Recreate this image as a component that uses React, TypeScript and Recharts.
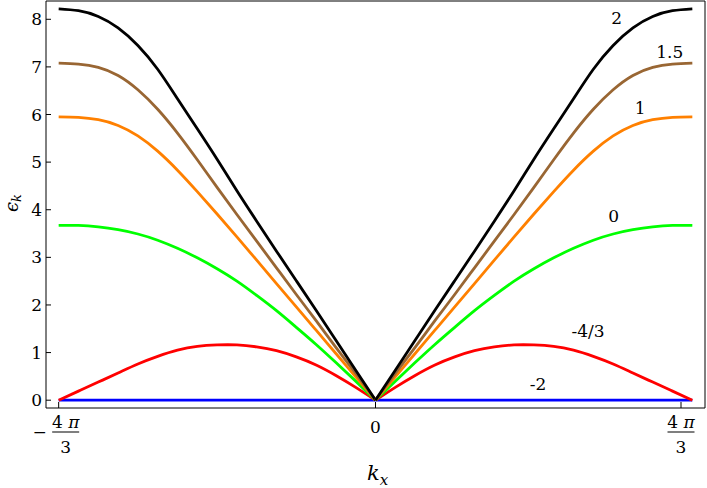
import { LineChart, Line, XAxis, YAxis, ReferenceLine, ReferenceDot } from "recharts";

// k_x sample points on the right half (multiples of pi/12, 0 .. 4pi/3)
const kHalf = [
  0, 0.2618, 0.5236, 0.7854, 1.0472, 1.309, 1.5708, 1.8326, 2.0944, 2.3562, 2.618, 2.8798, 3.1416,
  3.4034, 3.6652, 3.927, 4.1888,
];

// dispersion for each value of the parameter (right half; curves are symmetric)
const curve2 = [0, 0.63, 1.26, 1.89, 2.51, 3.13, 3.76, 4.4, 5.06, 5.7, 6.33, 6.95, 7.45, 7.82, 8.06, 8.18, 8.22];
const curve15 = [0, 0.56, 1.11, 1.67, 2.22, 2.78, 3.34, 3.9, 4.47, 5.05, 5.61, 6.11, 6.52, 6.82, 6.99, 7.06, 7.08];
const curve1 = [0, 0.49, 0.98, 1.47, 1.96, 2.45, 2.94, 3.43, 3.91, 4.38, 4.83, 5.23, 5.55, 5.77, 5.89, 5.94, 5.95];
const curve0 = [0, 0.4, 0.79, 1.17, 1.53, 1.88, 2.2, 2.5, 2.76, 2.99, 3.19, 3.36, 3.49, 3.58, 3.64, 3.67, 3.67];
const curveM43 = [0, 0.27, 0.52, 0.74, 0.91, 1.04, 1.12, 1.16, 1.16, 1.13, 1.05, 0.92, 0.76, 0.57, 0.38, 0.19, 0];
const curveM2 = [0, 0, 0, 0, 0, 0, 0, 0, 0, 0, 0, 0, 0, 0, 0, 0, 0];

const xTicks = [-4.18879, 0, 4.18879];
const yTicks = [0, 1, 2, 3, 4, 5, 6, 7, 8];

const X_MIN = -4.3563;
const X_MAX = 4.3563;
const Y_MIN = -0.164;
const Y_MAX = 8.384;

const series = [
  { key: "m2", values: curveM2, color: "#0000ff", label: "-2", lx: 2.15, ly: 0.33 },
  { key: "m43", values: curveM43, color: "#ff0000", label: "-4/3", lx: 2.81, ly: 1.46 },
  { key: "z", values: curve0, color: "#00ff00", label: "0", lx: 3.15, ly: 3.87 },
  { key: "one", values: curve1, color: "#ff8000", label: "1", lx: 3.5, ly: 6.13 },
  { key: "onefive", values: curve15, color: "#996633", label: "1.5", lx: 3.89, ly: 7.31 },
  { key: "two", values: curve2, color: "#000000", label: "2", lx: 3.19, ly: 8.02 },
];

const rightRows = kHalf.map((k, i) => {
  const row: Record<string, number> = { k };
  series.forEach((s) => (row[s.key] = s.values[i]));
  return row;
});
const leftRows = kHalf
  .map((k, i) => {
    const row: Record<string, number> = { k: -k };
    series.forEach((s) => (row[s.key] = s.values[i]));
    return row;
  })
  .reverse();

const FONT = "DejaVu Serif";

function YTick(props: any) {
  const { x, y, payload } = props;
  return (
    <g>
      <line x1={x} x2={x + 5} y1={y} y2={y} stroke="#000" strokeWidth={1} />
      <text x={x - 4} y={y + 6} textAnchor="end" fontFamily={FONT} fontSize={17} fill="#000">
        {payload.value}
      </text>
    </g>
  );
}

function Fraction({ cx, y }: { cx: number; y: number }) {
  return (
    <g>
      <text x={cx} y={y + 20} textAnchor="middle" fontFamily={FONT} fontSize={17} fill="#000">
        4 <tspan fontStyle="italic">π</tspan>
      </text>
      <line x1={cx - 13.5} x2={cx + 13.5} y1={y + 24} y2={y + 24} stroke="#555" strokeWidth={1.5} />
      <text x={cx} y={y + 45} textAnchor="middle" fontFamily={FONT} fontSize={17} fill="#000">
        3
      </text>
    </g>
  );
}

function XTick(props: any) {
  const { x, y, payload } = props;
  const v = payload.value;
  return (
    <g>
      <line x1={x} x2={x} y1={y - 6} y2={y} stroke="#000" strokeWidth={1} />
      {v === 0 ? (
        <text x={x} y={y + 25} textAnchor="middle" fontFamily={FONT} fontSize={17} fill="#000">
          0
        </text>
      ) : v < 0 ? (
        <g>
          <text x={x - 19} y={y + 30} textAnchor="middle" fontFamily={FONT} fontSize={17} fill="#000">
            −
          </text>
          <Fraction cx={x + 7} y={y} />
        </g>
      ) : (
        <Fraction cx={x} y={y} />
      )}
    </g>
  );
}

function curveLabel(text: string) {
  return (props: any) => {
    const vb = props.viewBox || {};
    const cx = (vb.x ?? 0) + (vb.width ?? 0) / 2;
    const cy = (vb.y ?? 0) + (vb.height ?? 0) / 2;
    return (
      <text x={cx} y={cy + 6} textAnchor="middle" fontFamily={FONT} fontSize={17} fill="#000">
        {text}
      </text>
    );
  };
}

export default function App() {
  return (
    <div style={{ position: "absolute", left: 0, top: 0 }}>
      <LineChart width={707} height={488} margin={{ top: 1, right: 2, left: 0, bottom: 0 }}>
        <XAxis
          dataKey="k"
          type="number"
          domain={[X_MIN, X_MAX]}
          ticks={xTicks}
          allowDataOverflow
          height={80}
          tickSize={0}
          tickMargin={0}
          tickLine={false}
          tick={XTick}
          axisLine={{ stroke: "#000", strokeWidth: 1 }}
          label={{
            content: () => (
              <text x={367} y={480} fontFamily={FONT} fontSize={21} fontStyle="italic" fill="#000">
                k
                <tspan fontSize={15} dy={5}>
                  x
                </tspan>
              </text>
            ),
          }}
        />
        <YAxis
          type="number"
          domain={[Y_MIN, Y_MAX]}
          ticks={yTicks}
          allowDataOverflow
          width={46}
          tickSize={0}
          tickMargin={0}
          tickLine={false}
          tick={YTick}
          axisLine={{ stroke: "#000", strokeWidth: 1 }}
          label={{
            content: () => (
              <text
                transform="translate(18 212) rotate(-90)"
                fontFamily={FONT}
                fontSize={18}
                fontStyle="italic"
                fill="#000"
              >
                ϵ
                <tspan fontSize={13} dy={3}>
                  k
                </tspan>
              </text>
            ),
          }}
        />
        <ReferenceLine y={Y_MAX} stroke="#000" strokeWidth={1} ifOverflow="visible" />
        <ReferenceLine x={X_MAX} stroke="#000" strokeWidth={1} ifOverflow="visible" />
        {series.map((s) => (
          <Line
            key={s.key + "L"}
            data={leftRows}
            dataKey={s.key}
            type="natural"
            stroke={s.color}
            strokeWidth={2.8}
            dot={false}
            isAnimationActive={false}
          />
        ))}
        {series.map((s) => (
          <Line
            key={s.key + "R"}
            data={rightRows}
            dataKey={s.key}
            type="natural"
            stroke={s.color}
            strokeWidth={2.8}
            dot={false}
            isAnimationActive={false}
          />
        ))}
        {series.map((s) => (
          <ReferenceDot
            key={s.key + "T"}
            x={s.lx}
            y={s.ly}
            r={1}
            fill="none"
            stroke="none"
            label={{ content: curveLabel(s.label) }}
          />
        ))}
      </LineChart>
    </div>
  );
}
